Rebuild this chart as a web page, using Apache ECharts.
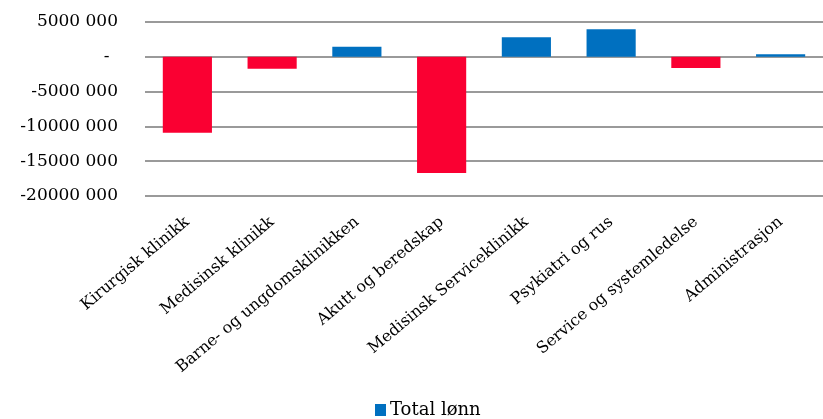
<!DOCTYPE html>
<html>
<head>
<meta charset="utf-8">
<script src="https://cdn.jsdelivr.net/npm/echarts@6/dist/echarts.min.js"></script>
<style>
html,body{margin:0;padding:0;background:#fff;}
#c{width:823px;height:419px;}
</style>
</head>
<body>
<div id="c"></div>
<script>
const categories = ["Kirurgisk klinikk","Medisinsk klinikk","Barne- og ungdomsklinikken","Akutt og beredskap","Medisinsk Serviceklinikk","Psykiatri og rus","Service og systemledelse","Administrasjon"];
const totalLonn = [-10900000, -1700000, 1450000, -16700000, 2800000, 3950000, -1600000, 350000];
const yTickValues = [-20000000, -15000000, -10000000, -5000000, 0, 5000000];
const yTickLabels = ["-20000 000", "-15000 000", "-10000 000", "-5000 000", "-\u2002", "5000 000"];
const seriesName = "Total lønn";

const BLUE = "#0070C0", RED = "#FA0032";
const chart = echarts.init(document.getElementById('c'), null, {renderer:'canvas'});
chart.setOption({
  animation:false,
  grid:{left:145, right:0, top:22, bottom:223, containLabel:false},
  legend:{
    data:[{name:seriesName, itemStyle:{color:BLUE}}],
    top:401, left:375, padding:0,
    itemWidth:11, itemHeight:12, itemGap:4,
    icon:'rect',
    textStyle:{fontFamily:'DejaVu Serif', fontSize:18, color:'#000', padding:[0,0,0,-1]}
  },
  xAxis:{
    type:'category', data:categories, position:'bottom',
    axisLine:{show:false}, axisTick:{show:false},
    axisLabel:{interval:0, rotate:40, fontFamily:'DejaVu Serif', fontSize:16, color:'#000', margin:24}
  },
  yAxis:{
    type:'value', min:-20000000, max:5000000, interval:5000000,
    axisLine:{show:false}, axisTick:{show:false},
    splitLine:{lineStyle:{color:'#9A9A9A', width:2}},
    axisLabel:{
      fontFamily:'DejaVu Serif', fontSize:17, color:'#000', margin:27,
      formatter:function(v){const i=yTickValues.indexOf(v); return i>=0?yTickLabels[i]:'';}
    }
  },
  series:[{
    name:seriesName, type:'bar', data:totalLonn.map(v=>({value:v, itemStyle:{color: v<0?RED:BLUE}})),
    barCategoryGap:'42%',
    itemStyle:{color:BLUE}
  }]
});
</script>
</body>
</html>
